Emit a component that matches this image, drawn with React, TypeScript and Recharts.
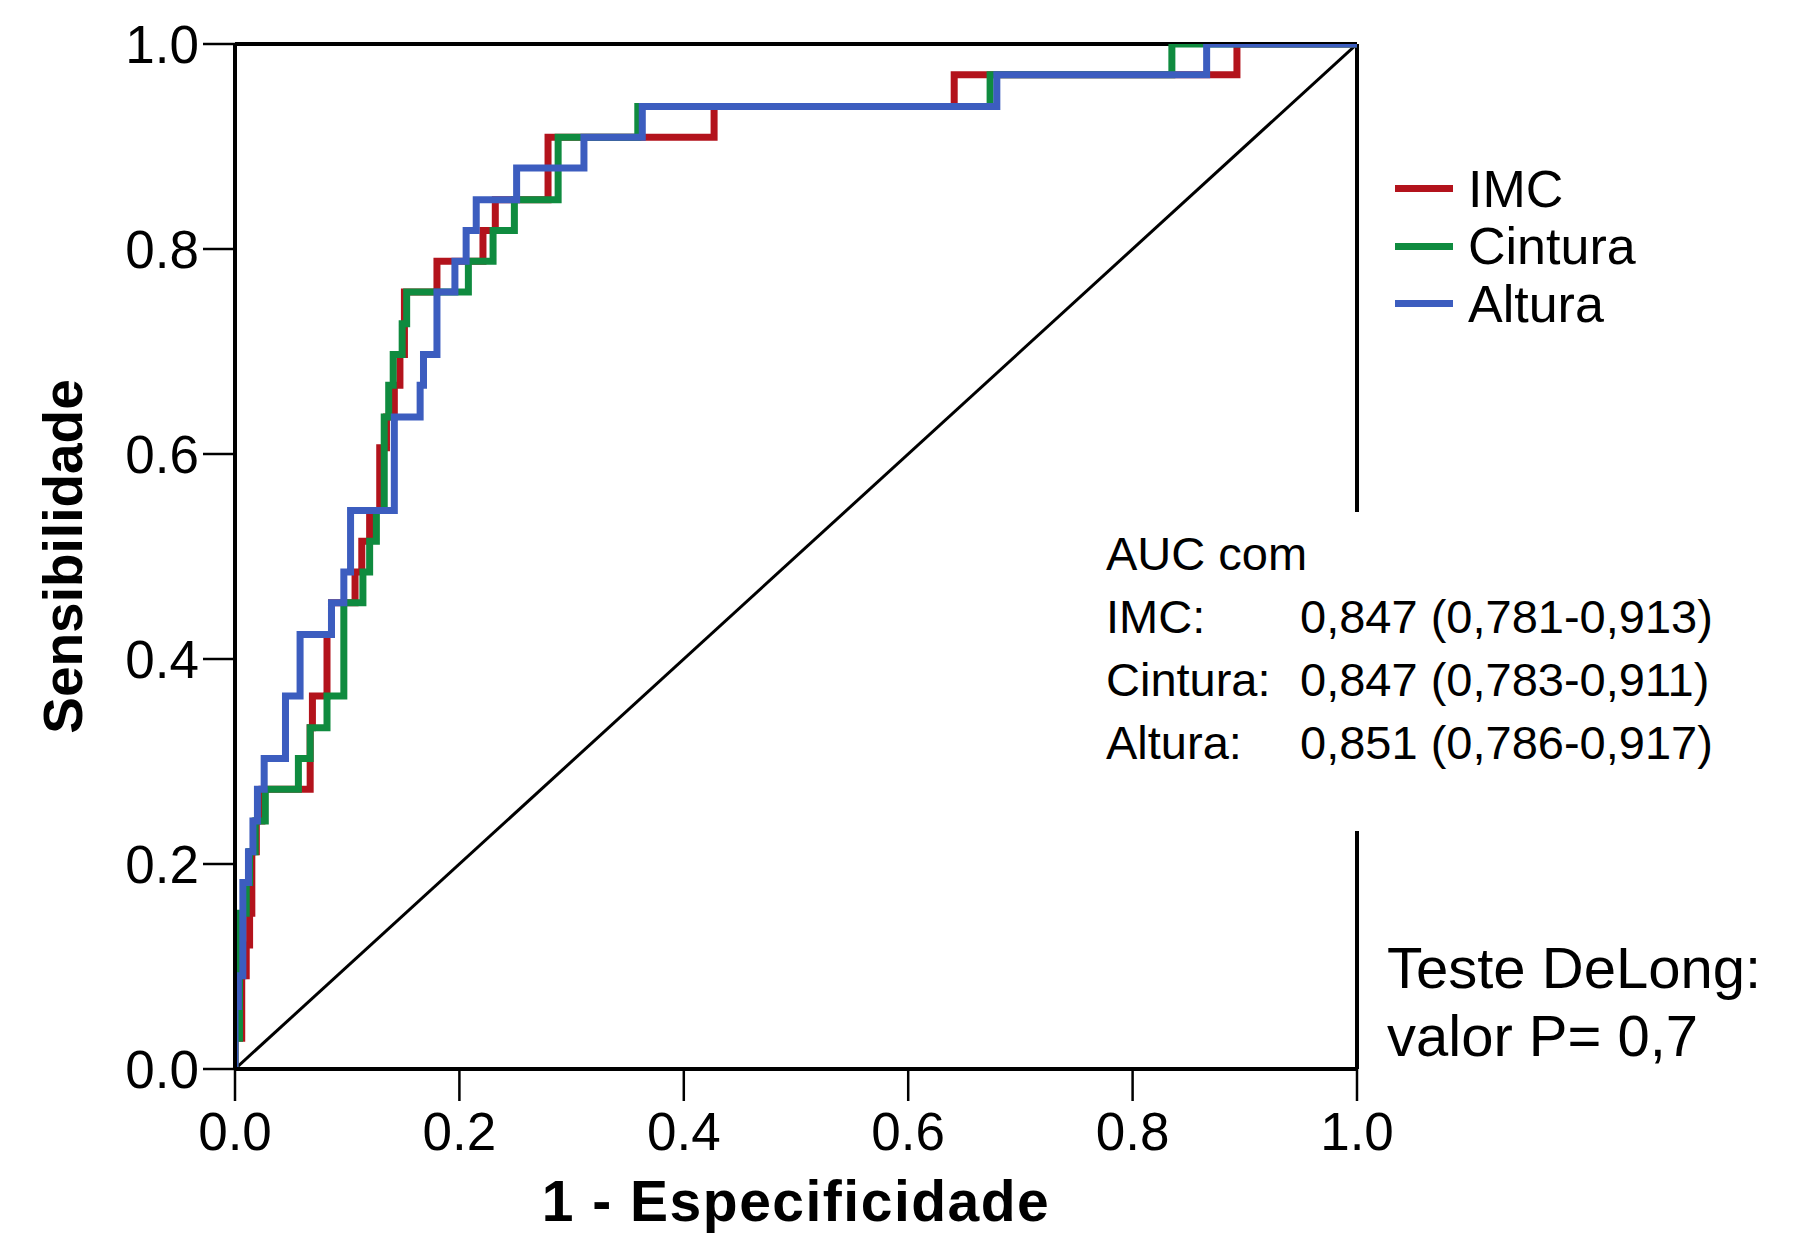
import { Label, Legend, Line, LineChart, ReferenceLine, XAxis, YAxis } from "recharts"

// ROC points: x where each step rises, sensitivity after the rise
const imcFpr = [0, 0, 0.006, 0.01, 0.013, 0.015, 0.019, 0.024, 0.067, 0.069, 0.082, 0.086, 0.107, 0.113, 0.12, 0.129, 0.135, 0.142, 0.147, 0.151, 0.18, 0.221, 0.232, 0.279, 0.427, 0.641, 0.893, 1]
const imcTpr = [0, 0.03, 0.091, 0.121, 0.152, 0.212, 0.242, 0.273, 0.333, 0.364, 0.424, 0.455, 0.485, 0.515, 0.545, 0.606, 0.636, 0.667, 0.697, 0.758, 0.788, 0.818, 0.848, 0.909, 0.939, 0.97, 1, 1]

const cinturaFpr = [0, 0, 0.004, 0.01, 0.013, 0.018, 0.027, 0.0565, 0.067, 0.082, 0.097, 0.114, 0.12, 0.126, 0.133, 0.137, 0.141, 0.149, 0.153, 0.208, 0.23, 0.249, 0.288, 0.359, 0.673, 0.835, 1]
const cinturaTpr = [0, 0.03, 0.152, 0.182, 0.212, 0.242, 0.273, 0.303, 0.333, 0.364, 0.455, 0.485, 0.515, 0.545, 0.636, 0.667, 0.697, 0.727, 0.758, 0.788, 0.818, 0.848, 0.909, 0.939, 0.97, 1, 1]

const alturaFpr = [0, 0, 0.003, 0.007, 0.012, 0.016, 0.02, 0.026, 0.045, 0.058, 0.086, 0.097, 0.103, 0.142, 0.165, 0.168, 0.18, 0.196, 0.206, 0.215, 0.251, 0.311, 0.363, 0.679, 0.866, 1]
const alturaTpr = [0, 0.061, 0.091, 0.182, 0.212, 0.242, 0.273, 0.303, 0.364, 0.424, 0.455, 0.485, 0.545, 0.636, 0.667, 0.697, 0.758, 0.788, 0.818, 0.848, 0.879, 0.909, 0.939, 0.97, 1, 1]

const chanceFpr = [0, 1]
const chanceTpr = [0, 1]

const axisTicks = [0, 0.2, 0.4, 0.6, 0.8, 1]

const seriesNames = ["IMC", "Cintura", "Altura"]
const seriesColors = ["#b3131c", "#0f8b3f", "#3c5dbf"]

const aucLabels = ["IMC:", "Cintura:", "Altura:"]
const aucValues = ["0,847 (0,781-0,913)", "0,847 (0,783-0,911)", "0,851 (0,786-0,917)"]

const toPoints = (fpr: number[], tpr: number[]) =>
  fpr.map((x, i) => ({ fpr: x, tpr: tpr[i] }))

const curves = [
  toPoints(imcFpr, imcTpr),
  toPoints(cinturaFpr, cinturaTpr),
  toPoints(alturaFpr, alturaTpr),
]

const sans = "'Liberation Sans', Arial, Helvetica, sans-serif"

function RocLegend() {
  return (
    <div style={{ fontFamily: sans }}>
      {seriesNames.map((name, i) => (
        <div
          key={name}
          style={{ display: "flex", alignItems: "center", height: 57.5 }}
        >
          <span
            style={{
              display: "inline-block",
              width: 58,
              height: 7,
              background: seriesColors[i],
              marginRight: 15,
            }}
          />
          <span style={{ fontSize: 52, lineHeight: 1, color: "#000" }}>
            {name}
          </span>
        </div>
      ))}
    </div>
  )
}

export default function App() {
  return (
    <div
      style={{
        position: "absolute",
        left: 0,
        top: 0,
        width: 1816,
        height: 1234,
        background: "#fff",
        overflow: "hidden",
      }}
    >
      <LineChart
        width={1816}
        height={1234}
        margin={{ top: 44, right: 459, bottom: 0, left: 20 }}
      >
        <XAxis
          dataKey="fpr"
          type="number"
          domain={[0, 1]}
          ticks={axisTicks}
          tickFormatter={(v: number) => v.toFixed(1)}
          height={165}
          tickSize={32}
          tickMargin={11}
          axisLine={{ stroke: "#000", strokeWidth: 4 }}
          tickLine={{ stroke: "#000", strokeWidth: 2.5 }}
          tick={{ fill: "#000", fontSize: 53, fontFamily: sans }}
          allowDataOverflow
        >
          <Label
            value="1 - Especificidade"
            position="insideBottom"
            offset={13}
            style={{
              fontFamily: sans,
              fontSize: 57,
              fontWeight: "bold",
              fill: "#000",
              letterSpacing: 1.5,
            }}
          />
        </XAxis>
        <YAxis
          type="number"
          domain={[0, 1]}
          ticks={axisTicks}
          tickFormatter={(v: number) => v.toFixed(1)}
          width={215}
          tickSize={32}
          tickMargin={4}
          axisLine={{ stroke: "#000", strokeWidth: 4 }}
          tickLine={{ stroke: "#000", strokeWidth: 2.5 }}
          tick={{ fill: "#000", fontSize: 53, fontFamily: sans }}
          allowDataOverflow
        >
          <Label
            value="Sensibilidade"
            angle={-90}
            position="insideLeft"
            offset={42}
            style={{
              fontFamily: sans,
              fontSize: 55,
              fontWeight: "bold",
              fill: "#000",
              textAnchor: "middle",
            }}
          />
        </YAxis>

        <ReferenceLine y={1} stroke="#000" strokeWidth={4} />
        <ReferenceLine x={1} stroke="#000" strokeWidth={4} />

        <Line
          data={toPoints(chanceFpr, chanceTpr)}
          dataKey="tpr"
          type="linear"
          stroke="#000"
          strokeWidth={3}
          dot={false}
          legendType="none"
          isAnimationActive={false}
        />
        {curves.map((pts, i) => (
          <Line
            key={seriesNames[i]}
            name={seriesNames[i]}
            data={pts}
            dataKey="tpr"
            type="stepAfter"
            stroke={seriesColors[i]}
            strokeWidth={7}
            strokeLinejoin="miter"
            strokeLinecap="butt"
            dot={false}
            activeDot={false}
            isAnimationActive={false}
          />
        ))}

        <Legend
          layout="vertical"
          align="center"
          verticalAlign="middle"
          content={() => <RocLegend />}
          wrapperStyle={{ left: 1395, top: 160, width: 320 }}
        />
      </LineChart>

      <div
        style={{
          position: "absolute",
          left: 1090,
          top: 512,
          width: 650,
          height: 319,
          background: "#fff",
          boxSizing: "border-box",
          paddingTop: 10,
          paddingLeft: 16,
          fontFamily: sans,
          fontSize: 47,
          lineHeight: "63px",
          color: "#000",
        }}
      >
        <div>AUC com</div>
        {aucLabels.map((lab, i) => (
          <div key={lab} style={{ display: "flex", whiteSpace: "pre" }}>
            <span style={{ display: "inline-block", width: 194 }}>{lab}</span>
            <span>{aucValues[i]}</span>
          </div>
        ))}
      </div>

      <div
        style={{
          position: "absolute",
          left: 1387,
          top: 934,
          fontFamily: sans,
          fontSize: 58,
          lineHeight: "68px",
          color: "#000",
          whiteSpace: "pre",
        }}
      >
        <div>Teste DeLong:</div>
        <div>valor P= 0,7</div>
      </div>
    </div>
  )
}
